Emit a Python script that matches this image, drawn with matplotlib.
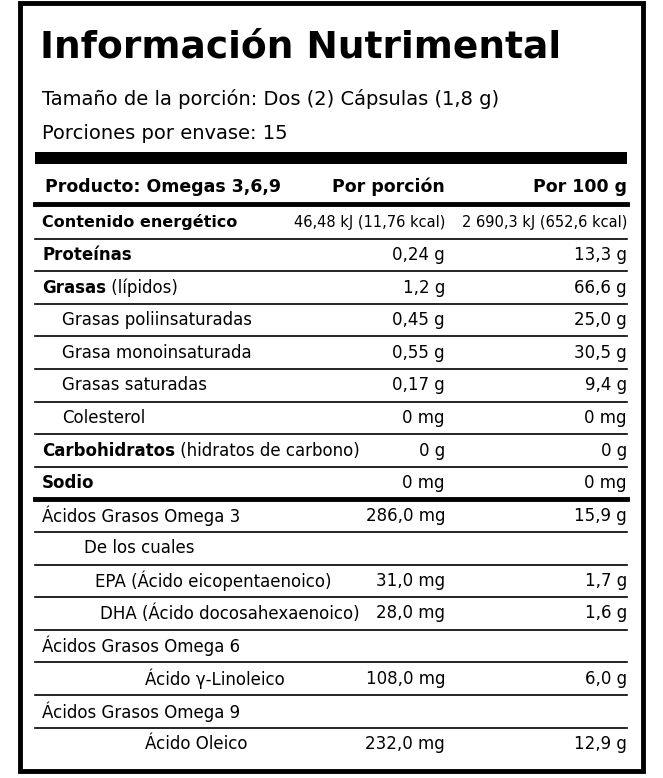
import matplotlib.pyplot as plt

FONT = ['DejaVu Sans']

rows = ["Contenido energético", "Proteínas", "Grasas", "Grasas poliinsaturadas",
        "Grasa monoinsaturada", "Grasas saturadas", "Colesterol", "Carbohidratos",
        "Sodio", "Ácidos Grasos Omega 3", "De los cuales", "EPA (Ácido eicopentaenoico)",
        "DHA (Ácido docosahexaenoico)", "Ácidos Grasos Omega 6", "Ácido γ-Linoleico",
        "Ácidos Grasos Omega 9", "Ácido Oleico"]
suffix = {"Grasas": " (lípidos)", "Carbohidratos": " (hidratos de carbono)"}
bold = {"Contenido energético", "Proteínas", "Grasas", "Carbohidratos", "Sodio"}
indent = [42, 42, 42, 62, 62, 62, 62, 42, 42, 42, 84, 95, 100, 42, 145, 42, 145]
por_porcion = ["46,48 kJ (11,76 kcal)", "0,24 g", "1,2 g", "0,45 g", "0,55 g", "0,17 g",
               "0 mg", "0 g", "0 mg", "286,0 mg", "", "31,0 mg", "28,0 mg", "", "108,0 mg",
               "", "232,0 mg"]
por_100g = ["2 690,3 kJ (652,6 kcal)", "13,3 g", "66,6 g", "25,0 g", "30,5 g", "9,4 g",
            "0 mg", "0 g", "0 mg", "15,9 g", "", "1,7 g", "1,6 g", "", "6,0 g", "", "12,9 g"]

fig = plt.figure(figsize=(6.63, 7.78), dpi=100)
ax = fig.add_axes([0, 0, 1, 1])
ax.set_xlim(0, 663)
ax.set_ylim(778, 0)
ax.axis('off')

# borde exterior
ax.add_patch(plt.Rectangle((20, 3), 623, 768, fill=False, lw=3.5, color='black'))

ax.text(40, 47, "Información Nutrimental", fontsize=27, weight='bold', family=FONT,
        va='center', ha='left')
ax.text(42, 99, "Tamaño de la porción: Dos (2) Cápsulas (1,8 g)", fontsize=14,
        family=FONT, va='center')
ax.text(42, 133, "Porciones por envase: 15", fontsize=14, family=FONT, va='center')

ax.add_patch(plt.Rectangle((35, 152), 592, 12, color='black', lw=0))
ax.text(45, 187, "Producto: Omegas 3,6,9", fontsize=12.5, weight='bold', family=FONT, va='center')
ax.text(445, 187, "Por porción", fontsize=12.5, weight='bold', family=FONT, va='center', ha='right')
ax.text(627, 187, "Por 100 g", fontsize=12.5, weight='bold', family=FONT, va='center', ha='right')
ax.plot([35, 627], [204, 204], color='black', lw=3.5)

top = 206
h = 32.6
for i, name in enumerate(rows):
    yc = top + h * (i + 0.5)
    w = 'bold' if name in bold else 'normal'
    fs_val = 10.5 if i == 0 else 12
    fs_lab = 11.5 if i == 0 else 12
    t = ax.text(indent[i], yc, name, fontsize=fs_lab, weight=w, family=FONT, va='center')
    if name in suffix:
        fig.canvas.draw()
        bb = t.get_window_extent().transformed(ax.transData.inverted())
        ax.text(bb.x1, yc, suffix[name], fontsize=12, family=FONT, va='center')
    ax.text(445, yc, por_porcion[i], fontsize=fs_val, family=FONT, va='center', ha='right')
    ax.text(627, yc, por_100g[i], fontsize=fs_val, family=FONT, va='center', ha='right')
    if i < len(rows) - 1:
        lw = 3.5 if name == "Sodio" else 1.2
        ax.plot([35, 627], [top + h * (i + 1)] * 2, color='black', lw=lw)

fig.savefig('out.png', dpi=100)
